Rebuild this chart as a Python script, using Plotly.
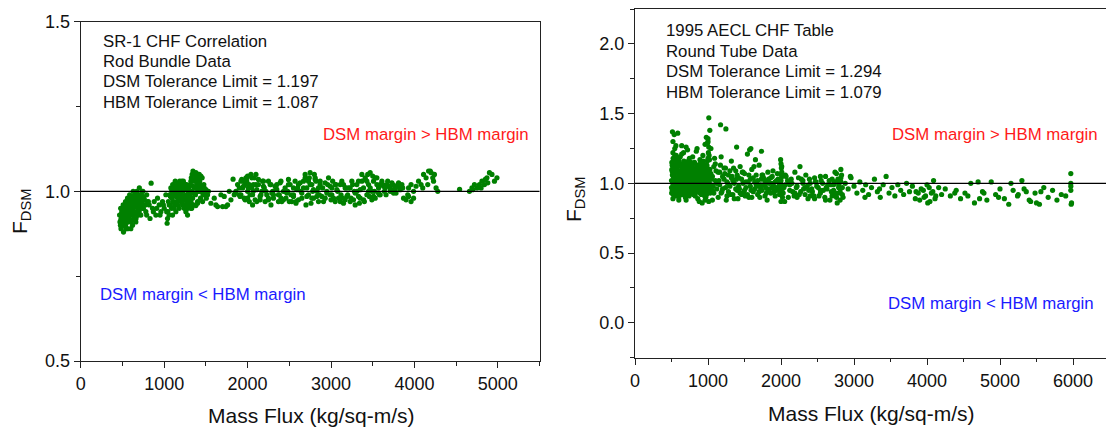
import plotly.graph_objects as go

# ---------------- Left panel: SR-1 CHF correlation, rod bundle data ----------------
sr1_flux_a = [465,470,478,482,488,492,498,503,508,512,
              518,522,527,531,536,540,545,550,556,560,
              565,570,576,580,586,592,598,604,610,616,
              622,628,634,640,648,655,662,670,678,686,
              694,702,712,722,732,745,758,772,790,810]
sr1_fdsm_a = [0.93,0.91,0.95,0.89,0.92,0.94,0.90,0.93,0.96,0.88,
              0.91,0.95,0.93,0.90,0.97,0.92,0.94,0.96,0.91,0.98,
              0.93,0.95,0.97,0.92,0.99,0.94,0.96,0.91,0.98,0.95,
              0.93,1.00,0.97,0.94,0.99,0.96,0.92,1.00,0.97,0.95,
              0.98,1.01,0.96,0.99,0.97,1.00,0.98,0.96,0.99,0.97]
sr1_flux_b = [475,485,495,505,515,525,535,545,555,565,
              575,585,595,605,615,625,635,645,655,665,
              675,685,695,705,715,725,735,600,620,640,
              660,680,700,560,580,540,520,500,720,750,
              480,490,500,510,520,530,540,550,560,570,
              580,590,600,610,620,630,640,650,660,670,
              680,690,700,710,720,730,740,760,620,660]
sr1_fdsm_b = [0.90,0.92,0.91,0.94,0.92,0.96,0.90,0.93,0.95,0.91,
              0.94,0.96,0.93,0.97,0.95,0.94,0.98,0.96,0.99,0.94,
              0.96,0.93,0.99,0.97,0.95,0.98,1.00,0.89,0.90,0.92,
              0.91,0.93,0.94,0.89,0.92,0.89,0.90,0.92,0.93,0.95,
              0.915,0.935,0.925,0.905,0.945,0.935,0.955,0.915,0.945,0.965,
              0.935,0.975,0.955,0.945,0.985,0.965,0.975,0.955,0.985,0.975,
              0.955,0.985,0.965,0.98,0.99,0.975,0.985,0.975,0.915,0.935]
sr1_flux_c = [740,760,780,800,820,843,860,880,900,920,
              940,960,980,1000,1020,1035,790,830,870,910,
              950,990,1030,1040]
sr1_fdsm_c = [0.95,0.96,0.94,0.97,0.96,1.024,0.95,0.97,0.93,0.98,
              0.96,0.94,0.97,0.95,0.99,0.906,0.93,0.92,0.94,0.95,
              0.93,0.96,0.94,0.92]
sr1_flux_d = [1045,1050,1058,1065,1072,1080,1088,1095,1102,1110,
              1118,1125,1132,1140,1148,1155,1162,1170,1178,1185,
              1192,1200,1208,1215,1222,1230,1238,1245,1252,1260,
              1268,1275,1282,1290,1298,1305,1312,1320,1330,1340,
              1100,1120,1140,1160,1180,1200,1220,1240,1260,1280,
              1300,1320,1350,1380,1400,
              1060,1075,1090,1105,1115,1130,1145,1160,1175,1190,
              1205,1220,1235,1250,1265,1280,1295,1310,1150,1190,
              1230,1270,1170,1210,1250]
sr1_fdsm_d = [0.94,0.97,0.93,0.99,0.96,1.01,0.95,0.98,1.02,0.97,
              1.00,0.96,1.03,0.99,1.01,0.97,1.02,1.00,0.98,1.03,
              1.01,0.99,1.02,0.97,1.00,1.03,0.98,1.01,0.96,0.99,
              1.02,0.97,0.95,1.00,0.98,0.96,0.99,0.97,0.95,0.96,
              0.93,0.95,0.94,0.96,0.95,0.97,0.96,0.95,0.94,0.93,
              0.955,0.95,0.96,0.958,0.965,
              0.96,0.985,1.0,0.99,1.015,1.005,0.985,1.02,1.01,1.025,
              0.995,1.015,1.005,1.02,1.01,0.985,1.01,0.98,0.97,0.975,
              0.985,0.965,0.99,1.03,0.975]
sr1_flux_e = [1315,1325,1335,1345,1355,1365,1375,1385,1395,1405,
              1415,1425,1435,1445,1455,1465,1475,1490,1505,1520,
              1340,1360,1380,1400,1420,1440,1460,1480,1500,1530,
              1560,1600,1640,1680,1700,1720,1760,1780,1800,1826,
              1840,1620,1740,1850,
              1320,1335,1350,1365,1380,1395,1410,1425,1440,1455,
              1470,1485,1500,1350,1400]
sr1_fdsm_e = [1.02,1.04,1.00,1.06,1.03,1.05,0.99,1.04,1.02,1.05,
              1.00,1.03,0.98,1.01,1.04,0.99,1.02,1.00,0.98,0.99,
              0.98,1.01,1.03,0.97,1.05,1.00,0.97,1.01,0.99,1.00,
              0.965,0.98,0.955,0.99,0.955,0.985,0.96,1.00,0.975,1.036,
              0.99,0.96,0.955,0.995,
              1.03,1.05,1.015,1.035,1.055,1.01,1.04,1.02,1.045,1.0,
              1.01,0.99,1.005,0.995,1.0]
sr1_flux_f = [1860,1880,1900,1920,1940,1960,1980,2000,2020,2040,
              2060,2080,2100,2110,1900,1950,2000,2050,2100,1920,
              1970,2020,2070,1990,2060,
              2130,2160,2190,2220,2250,2280,2310,2340,2370,2400,
              2430,2460,2490,2520,2550,2580,2610,2640,2150,2200,
              2250,2300,2350,2400,2450,2500,2550,2600,2650,2180,
              2280,2380,2480,2580]
sr1_fdsm_f = [1.00,1.02,0.99,1.03,1.01,0.98,1.04,1.00,1.02,1.05,
              0.99,1.04,1.02,0.97,1.01,1.03,0.98,1.01,1.05,0.99,
              1.02,0.97,1.00,1.04,0.96,
              1.02,0.99,1.03,1.00,0.98,1.02,0.99,1.01,0.97,1.03,
              1.00,0.98,1.02,0.99,1.01,0.97,1.02,1.00,0.985,1.01,
              0.975,1.00,1.02,0.98,1.01,0.97,0.99,1.01,0.98,1.03,
              0.96,0.99,1.00,0.965]
sr1_flux_g = [2670,2690,2710,2730,2750,2770,2790,2810,2830,2850,
              2870,2700,2740,2780,2820,2860,2760,2800,
              2900,2930,2960,2990,3020,3050,3080,3110,3140,3170,
              3200,3230,3260,3290,2950,3000,3060,3120,3180,3240,
              3280,3010,3150]
sr1_fdsm_g = [1.03,1.05,1.01,0.99,1.055,1.02,0.98,1.04,1.00,0.97,
              1.02,0.96,1.04,1.00,1.03,0.99,0.965,1.05,
              1.01,0.98,1.02,0.99,1.03,0.97,1.00,1.02,0.98,1.01,
              0.99,0.97,1.02,0.96,1.00,0.975,1.02,0.99,1.01,0.98,
              1.00,1.01,0.965]
sr1_flux_h = [3310,3330,3350,3370,3390,3410,3430,3450,3470,3490,
              3510,3530,3550,3570,3590,3340,3400,3460,3520,3580,
              3440,3500,
              3620,3650,3680,3710,3740,3770,3800,3830,3850,3660,
              3720,3780,
              3870,3900,3930,3960,3990,3920]
sr1_fdsm_h = [1.00,1.03,0.98,1.05,1.01,1.04,0.99,1.02,1.055,1.00,
              1.03,0.98,1.04,1.01,1.02,0.965,0.97,0.985,1.00,0.99,
              1.05,1.045,
              1.02,1.01,1.03,1.00,1.02,1.01,1.02,1.01,1.02,0.99,
              1.005,0.995,
              0.98,0.975,0.985,0.97,0.98,0.99]
sr1_flux_i = [3930,3960,3990,4020,4050,4080,4110,4140,4170,4200,
              4230,4260,4280,4100,4160,4220,4190,4240,4542,
              4660,4690,4720,4750,4780,4810,4840,4870,4900,4930,
              4960,4990,4700,4800,4880,4850]
sr1_fdsm_i = [1.01,1.02,1.00,1.015,1.03,1.02,1.05,1.04,1.06,1.055,
              1.03,1.01,1.00,1.01,1.02,1.04,1.06,1.05,1.006,
              1.00,1.01,1.02,1.01,1.02,1.03,1.02,1.04,1.055,1.05,
              1.03,1.04,1.005,1.01,1.025,1.035]
sr1_flux_j = [1910,1950,1990,2030,2070,2110,2150,2190,2230,2270,
              2310,2350,2390,2430,2470,2510,2550,2590,2630,2670,
              2710,2750,2790,2830,2870,2910,2950,2990,3030,3070,
              3110,3150,3190,3230,3270,3310,3350,3390,3430,3470,
              3510,3550,3590,3630,3670,3710,3750,3790,3830,3860]
sr1_fdsm_j = [0.985,1.015,1.03,0.99,1.02,1.005,0.975,1.015,0.99,1.02,
              0.98,1.005,1.025,0.975,0.995,1.02,0.985,1.005,1.025,1.01,
              0.985,1.02,1.005,0.985,1.03,0.97,0.995,1.015,0.98,1.005,
              0.97,1.02,0.985,1.01,0.975,1.02,1.005,0.975,1.03,1.01,
              0.985,1.02,0.99,1.015,1.02,1.01,0.995,1.015,1.005,1.01]
sr1_flux_k = [1930,1970,2010,2050,2090,2130,2170,2210,2250,2290,
              2330,2370,2410,2450,2490,2530,2570,2610,2650,2690,
              2730,2770,2810,2850,2890,2930,2970,3010,3050,3090,
              3130,3170,3210,3250,3290,3330,3370,3410,3450,3490,
              3530,3570,3610,3640,3690,3730,3770,3810,3845,2000]
sr1_fdsm_k = [1.035,0.975,1.01,1.04,0.975,1.035,1.0,0.97,1.03,0.995,
              1.015,0.99,0.97,1.0,1.035,0.97,1.03,0.975,0.995,1.04,
              1.03,0.98,1.035,1.01,0.985,1.025,1.04,0.99,1.02,0.98,
              1.03,0.975,1.01,1.03,0.995,0.985,1.03,1.035,1.0,0.975,
              1.04,0.995,1.03,1.0,1.015,1.025,1.005,1.025,1.015,1.045]

# ---------------- Right panel: 1995 AECL CHF table, round tube data ----------------
aecl_flux_a = [500,505,510,515,520,525,530,535,540,545,
               550,560,570,580,590,600,610,620,630,640,
               650,660,670,680,690,700,710,720,730,740,
               750,760,770,780,790,800,810,820,830,840,
               850,860,870,880,890,900,910,920,930,940,
               950,960,970,980,990,1000,1010,1020,1030,1040]
aecl_fdsm_a = [1.02,1.15,0.95,1.08,1.22,0.92,1.05,1.12,0.98,1.25,
               1.00,1.10,0.94,1.18,1.04,0.90,1.13,1.07,0.97,1.21,
               1.02,0.92,1.16,1.06,0.99,1.11,0.95,1.24,1.03,0.91,
               1.08,1.14,0.98,1.02,1.19,0.93,1.06,1.10,0.96,1.23,
               1.01,0.89,1.12,1.05,0.97,1.15,0.92,1.08,1.20,0.95,
               1.03,1.28,0.90,1.11,1.06,1.32,0.98,1.17,0.93,1.07]
aecl_flux_b = [502,512,522,532,542,552,565,575,585,595,
               605,615,625,635,645,655,665,675,685,695,
               705,715,725,735,745,755,765,775,785,795,
               805,815,825,835,845,855,865,875,885,895,
               905,915,925,935,945,955,965,975,985,995,
               1005,1015,1025,1035,1045]
aecl_fdsm_b = [0.93,1.06,1.18,0.99,1.11,1.04,1.20,0.97,1.09,1.01,
               1.16,0.95,1.04,1.12,0.99,1.07,1.22,0.94,1.10,1.03,
               0.98,1.14,1.07,1.00,1.18,0.93,1.05,1.12,0.96,1.08,
               1.02,1.15,0.91,1.09,1.04,0.97,1.13,1.01,1.07,0.94,
               1.10,1.03,0.98,1.16,1.05,0.91,1.09,1.00,1.13,0.96,
               1.06,1.01,1.10,0.95,1.03]
aecl_flux_c = [508,518,528,538,548,558,568,578,588,598,
               608,618,628,638,648,658,668,678,688,698,
               708,718,728,738,748,758,768,778,788,798,
               808,818,828,838,848,858,868,878,888,898,
               908,918,928,938,948,958,968,978,988,998]
aecl_fdsm_c = [1.09,0.97,1.01,1.05,0.94,1.13,1.00,1.04,0.92,1.07,
               1.01,1.09,0.95,1.03,1.10,0.93,1.02,1.08,0.96,1.05,
               1.09,0.97,1.01,1.06,0.94,1.02,1.10,0.99,1.04,0.92,
               1.06,0.98,1.03,1.11,0.95,1.04,0.99,1.08,0.93,1.02,
               0.97,1.05,1.01,0.94,1.08,1.03,0.96,1.06,0.99,1.04]
aecl_flux_k = [500,510,520,530,540,550,560,570,580,590,
               600,610,620,630,640,650,660,670,680,690,
               700,710,720,730,740,750,760,770,780,790,
               800,810,820,830,840,850,860,870,880,890,
               900,910,920,930,940,950,960,970,980,990]
aecl_fdsm_k = [0.97,1.13,0.99,1.17,1.07,0.91,1.03,1.15,1.00,1.12,
               1.05,0.98,1.19,0.92,1.06,1.14,1.00,0.97,1.13,0.90,
               1.04,1.08,0.99,1.16,1.05,0.96,1.09,1.01,0.94,1.14,
               1.07,0.95,1.01,0.97,1.10,1.12,0.94,1.06,1.00,1.17,
               0.98,1.03,1.13,0.96,1.02,1.10,0.99,1.04,0.92,1.09]
aecl_flux_l = [505,515,525,535,545,555,565,575,585,595,
               605,615,625,635,645,655,665,675,685,695,
               705,715,725,735,745,755,765,775,785,795,
               805,815,825,835,845,855,865,875,885,895,
               905,915,925,935,945,955,965,975,985,995]
aecl_fdsm_l = [1.10,1.01,1.05,0.94,1.20,0.98,1.08,0.92,1.02,1.16,
               0.94,1.06,1.01,1.09,0.95,1.02,0.97,1.11,1.03,1.14,
               1.00,0.92,1.11,0.95,1.03,1.09,1.15,0.93,1.07,1.00,
               0.97,1.05,1.08,0.94,1.13,1.01,1.06,0.95,1.11,1.00,
               1.05,0.93,1.07,1.11,0.98,1.06,1.13,0.94,1.07,1.00]
aecl_flux_d = [513,537,586,520,560,1011,1025,1172,1245,977,
               995,1040,700,850,640,880,920,960,1010,1060,
               520,600,700,1000,1005,1010,1000,1015,990,1392,
               1587,1733]
aecl_fdsm_d = [1.37,1.35,1.36,1.30,1.27,1.47,1.38,1.42,1.39,1.33,
               1.29,1.25,1.26,1.25,1.27,0.87,0.86,0.88,0.87,0.88,
               0.89,0.88,0.88,1.18,1.22,1.26,1.30,1.20,1.16,1.26,
               1.25,1.23]
aecl_flux_e = [1060,1080,1100,1120,1140,1160,1180,1200,1220,1240,
               1260,1280,1300,1320,1340,1360,1380,1400,1420,1440,
               1460,1480,1500,1520,1540,1560,1580,1600,1620,1640,
               1660,1680,1700,1720,1740,1760,1780,1800,1820,1840,
               1860,1880,1900,1920,1940,1960,1980]
aecl_fdsm_e = [1.05,0.93,1.14,1.00,0.90,1.08,1.19,0.96,1.03,1.11,
               0.91,1.06,0.98,1.16,1.02,0.89,1.09,0.95,1.04,1.12,
               0.92,1.00,1.07,0.97,1.21,0.90,1.03,1.10,0.94,1.01,
               1.06,0.92,1.13,0.99,0.95,1.04,0.91,1.00,1.08,0.96,
               0.93,1.05,0.98,0.91,1.02,0.95,0.99]
aecl_flux_f = [1070,1110,1150,1190,1230,1270,1310,1350,1390,1430,
               1470,1510,1550,1590,1630,1670,1710,1750,1790,1830,
               1870,1910,1950,1990,1090,1170,1250,1330,1410,1490,
               1570,1650,1730,1810,1890,1970]
aecl_fdsm_f = [0.98,1.09,1.02,0.94,1.07,1.00,0.92,1.11,1.03,0.96,
               1.08,0.91,1.01,0.95,1.12,0.98,0.90,1.06,0.97,1.03,
               1.00,0.94,1.07,0.92,1.18,1.13,0.88,1.05,0.89,0.93,
               1.24,1.17,1.03,0.88,1.09,1.01]
aecl_flux_m = [1020,1040,1060,1080,1100,1120,1140,1160,1180,1200,
               1220,1240,1260,1280,1300,1320,1340,1360,1380,1400,
               1420,1440,1460,1480,1500,1520,1540,1560,1580,1600,
               1620,1640,1660,1680,1700,1720,1740,1760,1780,1800,
               1820,1840,1860,1880,1900,1920,1940,1960,1980,2000]
aecl_fdsm_m = [1.10,0.99,0.95,1.12,1.02,0.96,1.08,0.99,0.93,1.05,
               1.11,0.97,1.01,0.94,1.09,1.04,0.92,1.00,0.96,1.06,
               0.98,0.93,1.03,1.08,0.95,1.01,0.92,1.06,0.98,0.90,
               1.04,0.96,0.99,1.02,0.94,0.97,1.06,0.99,1.02,0.93,
               0.95,1.00,1.04,0.97,0.94,1.01,0.97,1.03,0.92,0.96]
aecl_flux_g = [1995,2000,2005,2010,2015,2000,2005,2010,1990,2020,
               2000,2010,2005,1995,2015]
aecl_fdsm_g = [1.17,1.14,1.11,1.08,1.05,1.02,0.99,0.96,0.93,0.90,
               0.87,1.12,1.06,1.00,0.94]
aecl_flux_h = [2040,2070,2100,2130,2160,2190,2220,2250,2280,2310,
               2340,2370,2400,2430,2460,2490,2520,2550,2580,2610,
               2640,2670,2700,2730,2760,2790,2820,2850,2050,2120,
               2190,2260,2330,2400,2470,2540,2610,2680,2750,2820,
               2720,2740,2760,2780,2800,2820,2840,2770,2790,2810]
aecl_fdsm_h = [0.97,1.05,0.90,1.01,0.94,1.08,0.98,0.92,1.03,0.96,
               1.06,0.89,1.00,0.94,1.04,0.98,0.91,1.02,0.95,1.05,
               0.99,0.88,1.03,0.93,1.07,0.97,1.01,0.90,0.87,0.99,
               0.93,1.12,0.97,0.91,1.01,0.95,0.88,0.99,0.93,1.04,
               0.95,1.08,0.90,1.03,0.97,1.10,0.92,0.86,0.99,0.88]
aecl_flux_n = [2030,2060,2090,2120,2150,2180,2210,2240,2270,2300,
               2330,2360,2390,2420,2450,2480,2510,2540,2570,2600,
               2630,2660,2690,2720,2750,2780,2810,2840,2060,2140,
               2220,2300,2380,2460,2540,2620,2700,2730,2790,2830]
aecl_fdsm_n = [0.93,0.99,1.02,0.95,1.00,0.91,0.97,1.04,0.94,1.00,
               0.92,0.98,1.03,0.96,0.91,1.01,0.97,0.93,1.00,0.90,
               0.96,1.02,0.94,0.99,0.92,1.02,0.94,0.97,1.06,1.03,
               0.90,1.02,0.95,0.89,1.05,0.97,0.91,1.01,0.93,1.06]
aecl_flux_i = [2880,2920,2960,3000,3040,3080,3120,3160,3200,3240,
               3280,3320,3360,3400,3440,3480,3520,3560,3600,3640,
               3680,3720,3760,3800,3840,3880,3920,3960,4000,4040,
               4080,4120,4160,4200,3900,3950,4010,4060,4110,3980,
               4030,4090,3850,3350,3150,2950]
aecl_fdsm_i = [1.00,0.96,1.04,0.98,0.93,1.01,0.95,0.99,0.92,0.97,
               1.03,0.94,0.90,0.99,1.05,0.93,0.97,0.91,0.99,0.95,
               0.92,1.00,0.94,0.98,0.89,0.93,0.96,0.90,0.99,0.87,
               0.94,0.91,0.97,0.92,0.88,0.95,0.86,0.93,0.89,0.91,
               0.97,1.02,0.94,0.96,0.90,1.05]
aecl_flux_j = [4250,4320,4400,4460,4520,4600,4650,4700,4760,4820,
               4880,4940,5000,5060,5120,5180,5240,5300,5360,5420,
               5480,5540,5600,5660,5720,5780,5840,5900,5970,5970,
               5970,5975,5980,5970,4380,4560,4720,5150,5330,5500,
               5250,5400,5560,4980,4780]
aecl_fdsm_j = [0.96,0.91,0.95,0.89,0.93,1.00,0.86,1.01,0.94,0.88,
               1.01,0.92,0.96,0.89,0.85,0.95,0.91,1.02,0.94,0.87,
               0.93,0.85,0.97,0.90,0.95,0.88,0.92,0.91,1.07,1.00,
               0.98,0.85,0.86,0.95,0.93,0.91,0.89,1.00,0.96,0.86,
               0.92,0.88,0.94,0.90,0.93]

sr1_flux_groups = [sr1_flux_a, sr1_flux_b, sr1_flux_c, sr1_flux_d, sr1_flux_e,
                   sr1_flux_f, sr1_flux_g, sr1_flux_h, sr1_flux_i, sr1_flux_j, sr1_flux_k]
sr1_fdsm_groups = [sr1_fdsm_a, sr1_fdsm_b, sr1_fdsm_c, sr1_fdsm_d, sr1_fdsm_e,
                   sr1_fdsm_f, sr1_fdsm_g, sr1_fdsm_h, sr1_fdsm_i, sr1_fdsm_j, sr1_fdsm_k]
aecl_flux_groups = [aecl_flux_a, aecl_flux_b, aecl_flux_c, aecl_flux_k, aecl_flux_l,
                    aecl_flux_d, aecl_flux_e, aecl_flux_f, aecl_flux_m, aecl_flux_g,
                    aecl_flux_h, aecl_flux_n, aecl_flux_i, aecl_flux_j]
aecl_fdsm_groups = [aecl_fdsm_a, aecl_fdsm_b, aecl_fdsm_c, aecl_fdsm_k, aecl_fdsm_l,
                    aecl_fdsm_d, aecl_fdsm_e, aecl_fdsm_f, aecl_fdsm_m, aecl_fdsm_g,
                    aecl_fdsm_h, aecl_fdsm_n, aecl_fdsm_i, aecl_fdsm_j]

for fx, fy in zip(sr1_flux_groups + aecl_flux_groups, sr1_fdsm_groups + aecl_fdsm_groups):
    assert len(fx) == len(fy), (len(fx), len(fy), fx[:3])

sr1_flux = [v for g in sr1_flux_groups for v in g]
sr1_fdsm = [v for g in sr1_fdsm_groups for v in g]
aecl_flux = [v for g in aecl_flux_groups for v in g]
aecl_fdsm = [v for g in aecl_fdsm_groups for v in g]

left_notes = ["SR-1 CHF Correlation", "Rod Bundle Data",
              "DSM Tolerance Limit = 1.197", "HBM Tolerance Limit = 1.087"]
right_notes = ["1995 AECL CHF Table", "Round Tube Data",
               "DSM Tolerance Limit = 1.294", "HBM Tolerance Limit = 1.079"]
above_label = "DSM margin > HBM margin"
below_label = "DSM margin < HBM margin"
x_title = "Mass Flux (kg/sq-m/s)"
y_title = "F<sub>DSM</sub>"

W, H = 1106, 430
FONT = "Liberation Sans, Arial, sans-serif"
GREEN = "rgb(0,128,0)"

def px(x):
    return x / W

def py(y):
    return 1 - y / H

fig = go.Figure()
marker = dict(color=GREEN, size=5.2, line=dict(width=0))
fig.add_trace(go.Scatter(x=sr1_flux, y=sr1_fdsm, mode="markers", marker=marker,
                         xaxis="x", yaxis="y", showlegend=False, hoverinfo="x+y"))
fig.add_trace(go.Scatter(x=aecl_flux, y=aecl_fdsm, mode="markers", marker=marker,
                         xaxis="x2", yaxis="y2", showlegend=False, hoverinfo="x+y"))

axis_common = dict(showgrid=False, zeroline=False, showline=True, linecolor="#222",
                   linewidth=1.4, ticks="outside", ticklen=6, tickwidth=1.3,
                   tickcolor="#222", automargin=False,
                   tickfont=dict(family=FONT, size=18, color="#111"))
minor_common = dict(ticks="outside", ticklen=3.5, tickcolor="#222", showgrid=False)

fig.update_layout(
    width=W, height=H,
    margin=dict(l=0, r=0, t=0, b=0, autoexpand=False),
    paper_bgcolor="white", plot_bgcolor="white",
    font=dict(family=FONT, color="#111"),
    xaxis=dict(domain=[px(80.8), px(539.5)], range=[0, 5500], dtick=1000, tick0=0,
               mirror=True, anchor="y", minor=dict(dtick=500, **minor_common),
               **axis_common),
    yaxis=dict(domain=[py(361), py(21.7)], range=[0.5, 1.5], dtick=0.5, tick0=0.5,
               tickformat=".1f", mirror=True, anchor="x",
               minor=dict(dtick=0.25, **minor_common), **axis_common),
    xaxis2=dict(domain=[px(635), 1.0], range=[0, 6452], dtick=1000, tick0=0,
                mirror=True, anchor="y2", minor=dict(dtick=500, **minor_common),
                **axis_common),
    yaxis2=dict(domain=[py(357.7), py(9)], range=[-0.25, 2.25], dtick=0.5, tick0=0,
                tickformat=".1f", mirror=False, anchor="x2",
                minor=dict(dtick=0.25, **minor_common), **axis_common),
)

# reference line at F_DSM = 1.0
fig.add_shape(type="line", xref="x domain", yref="y", x0=0, x1=1, y0=1.0, y1=1.0,
              line=dict(color="black", width=1.2))
fig.add_shape(type="line", xref="x2 domain", yref="y2", x0=0, x1=1, y0=1.0, y1=1.0,
              line=dict(color="black", width=1.2))

ann = []
note_font = dict(family=FONT, size=16.8, color="#111")
for i, t in enumerate(left_notes):
    ann.append(dict(text=t, x=px(101), y=py([41, 61.7, 81.7, 102.3][i]), xref="paper", yref="paper",
                    xanchor="left", yanchor="middle", showarrow=False, font=note_font))
for i, t in enumerate(right_notes):
    ann.append(dict(text=t, x=px(663.5), y=py([30.3, 51, 72, 93][i]), xref="paper", yref="paper",
                    xanchor="left", yanchor="middle", showarrow=False, font=note_font))

red_font = dict(family=FONT, size=16.8, color="#ff1a1a")
blue_font = dict(family=FONT, size=16.8, color="#1a1aff")
ann += [
    dict(text=above_label, x=px(531.4), y=py(134.3), xanchor="right", yanchor="middle",
         xref="paper", yref="paper", showarrow=False, font=red_font),
    dict(text=below_label, x=px(97.9), y=py(294.3), xanchor="left", yanchor="middle",
         xref="paper", yref="paper", showarrow=False, font=blue_font),
    dict(text=above_label, x=px(1100.4), y=py(134), xanchor="right", yanchor="middle",
         xref="paper", yref="paper", showarrow=False, font=red_font),
    dict(text=below_label, x=px(1096), y=py(303.3), xanchor="right", yanchor="middle",
         xref="paper", yref="paper", showarrow=False, font=blue_font),
]

title_font = dict(family=FONT, size=21, color="#111")
ann += [
    dict(text=x_title, x=px(311), y=py(415), xanchor="center", yanchor="middle",
         xref="paper", yref="paper", showarrow=False, font=title_font),
    dict(text=x_title, x=px(871), y=py(413), xanchor="center", yanchor="middle",
         xref="paper", yref="paper", showarrow=False, font=title_font),
    dict(text=y_title, x=px(21), y=py(212), xanchor="center", yanchor="middle", textangle=-90,
         xref="paper", yref="paper", showarrow=False, font=title_font),
    dict(text=y_title, x=px(575), y=py(200), xanchor="center", yanchor="middle", textangle=-90,
         xref="paper", yref="paper", showarrow=False, font=title_font),
]
fig.update_layout(annotations=ann)

fig.write_html("out.html", config={"displayModeBar": False},
               post_script="document.body.style.margin='0';document.body.style.overflow='hidden';")
